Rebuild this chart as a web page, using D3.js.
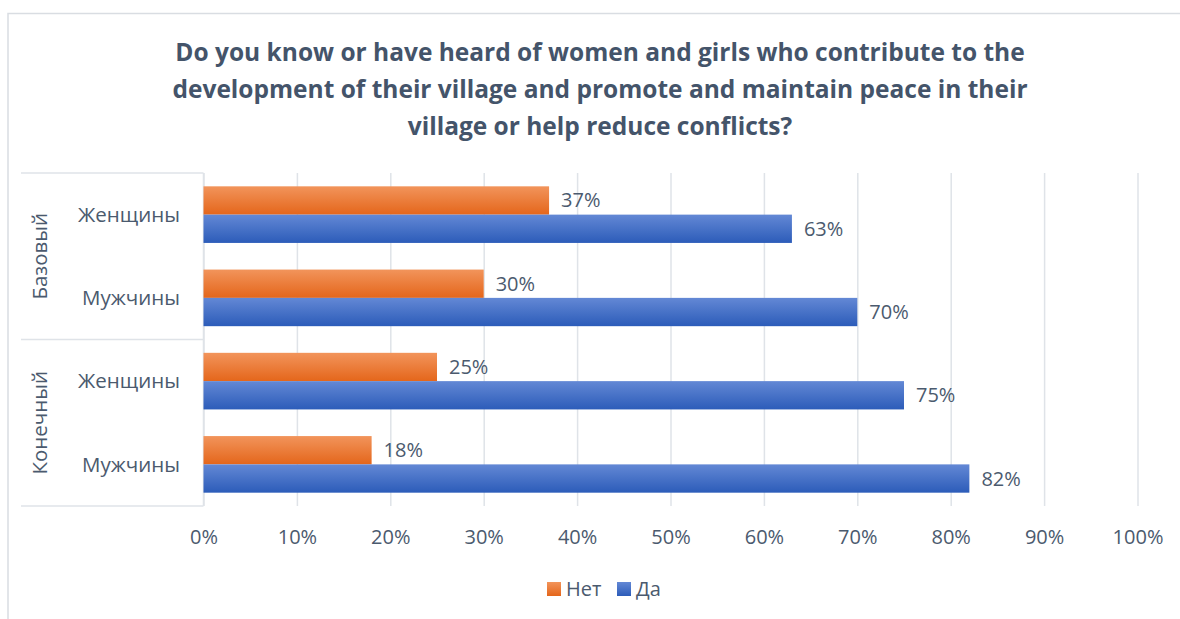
<!DOCTYPE html>
<html><head><meta charset="utf-8">
<script src="https://cdn.jsdelivr.net/npm/d3@7"></script>
<style>html,body{margin:0;padding:0;background:#fff;overflow:hidden}</style>
</head><body>
<svg id="chart" width="1180" height="619"></svg>
<script>
const titleLines = ["Do you know or have heard of women and girls who contribute to the",
  "development of their village and promote and maintain peace in their",
  "village or help reduce conflicts?"];
const groups = ["Базовый", "Конечный"];
const categories = ["Женщины", "Мужчины"];
const seriesNames = ["Нет", "Да"];
const netValues = [0.37, 0.30, 0.25, 0.18];
const daValues = [0.63, 0.70, 0.75, 0.82];
const xTicks = [0,0.1,0.2,0.3,0.4,0.5,0.6,0.7,0.8,0.9,1.0];

const rows = [];
groups.forEach((g,gi)=>categories.forEach((c,ci)=>{
  const i = gi*categories.length+ci;
  rows.push({key:g+"|"+c, group:g, cat:c, values:[netValues[i], daValues[i]]});
}));

const svg = d3.select("#chart");
const font = "'Open Sans', 'Noto Sans', sans-serif";
const textCol = "#4B5A6E";
const gridCol = "#DFE3E8";
const fs = 20;

const defs = svg.append("defs");
const grads = [["gNet","#F2945B","#E4661B"],["gDa","#6388D5","#2C5CB9"]];
grads.forEach(([id,a,b])=>{
  const lg = defs.append("linearGradient").attr("id",id).attr("x1",0).attr("y1",0).attr("x2",0).attr("y2",1);
  lg.append("stop").attr("offset","0%").attr("stop-color",a);
  lg.append("stop").attr("offset","100%").attr("stop-color",b);
});

// outer frame
svg.append("rect").attr("x",8).attr("y",13.5).attr("width",1200).attr("height",700)
  .attr("fill","none").attr("stroke","#D9DDE2").attr("stroke-width",1.5);

// title
svg.append("g").selectAll("text").data(titleLines).join("text")
  .attr("x",600).attr("y",(d,i)=>61+i*37).attr("text-anchor","middle")
  .attr("font-family",font).attr("font-weight","bold").attr("font-size",24.5)
  .attr("fill","#44546A").text(d=>d);

const x0 = 203.5, x1 = 1137.5, yTop = 173, yBot = 506;
const x = d3.scaleLinear().domain([0,1]).range([x0,x1]);
const y = d3.scaleBand().domain(rows.map(r=>r.key)).range([yTop,yBot]).paddingInner(0.32).paddingOuter(0.16);
const ySub = d3.scaleBand().domain(seriesNames).range([0,y.bandwidth()]);

// gridlines via axis
const gridAxis = d3.axisBottom(x).tickValues(xTicks).tickSize(yBot-yTop).tickFormat("");
const gg = svg.append("g").attr("transform",`translate(0,${yTop})`).call(gridAxis);
gg.select(".domain").remove();
gg.selectAll(".tick line").attr("stroke",gridCol).attr("stroke-width",1.5);

// x axis labels
const xAxis = d3.axisBottom(x).tickValues(xTicks).tickSize(0).tickPadding(0).tickFormat(d3.format(".0%"));
const xg = svg.append("g").attr("transform",`translate(0,${544})`).call(xAxis);
xg.select(".domain").remove();
xg.selectAll("text").attr("font-family",font).attr("font-size",fs).attr("fill",textCol).attr("dy",0);

// category axis lines
const catG = svg.append("g").attr("stroke",gridCol).attr("stroke-width",1.5);
catG.append("line").attr("x1",x0).attr("x2",x0).attr("y1",yTop).attr("y2",yBot);
const groupBounds = groups.map(g=>{
  const ks = rows.filter(r=>r.group===g).map(r=>r.key);
  const a = y(ks[0]) - y.step()*y.paddingInner()/2;
  const b = y(ks[ks.length-1]) + y.bandwidth() + y.step()*y.paddingInner()/2;
  return {g, a:Math.max(a,yTop), b:Math.min(b,yBot)};
});
const hLines = [yTop, ...groupBounds.map(d=>d.b)];
catG.selectAll("line.h").data(hLines).join("line").attr("class","h")
  .attr("x1",21).attr("x2",x0).attr("y1",d=>d).attr("y2",d=>d);

// category labels
svg.append("g").selectAll("text").data(rows).join("text")
  .attr("x",180).attr("y",r=>y(r.key)+y.bandwidth()/2).attr("dy","0.35em")
  .attr("text-anchor","end").attr("font-family",font).attr("font-size",20.5).attr("fill",textCol)
  .text(r=>r.cat);

// group labels rotated
svg.append("g").selectAll("text").data(groupBounds).join("text")
  .attr("transform",d=>`translate(40,${(d.a+d.b)/2}) rotate(-90)`)
  .attr("text-anchor","middle").attr("dy","0.35em").attr("font-family",font).attr("font-size",20.5).attr("fill",textCol)
  .text(d=>d.g);

// bars
const rowG = svg.append("g").selectAll("g").data(rows).join("g")
  .attr("transform",r=>`translate(0,${y(r.key)})`);
rowG.selectAll("rect").data(r=>r.values.map((v,i)=>({v,s:seriesNames[i],i}))).join("rect")
  .attr("x",x(0)).attr("y",d=>ySub(d.s)).attr("height",ySub.bandwidth())
  .attr("width",d=>x(d.v)-x(0)).attr("fill",d=>`url(#${grads[d.i][0]})`);
rowG.selectAll("text").data(r=>r.values.map((v,i)=>({v,s:seriesNames[i]}))).join("text")
  .attr("x",d=>x(d.v)+12).attr("y",d=>ySub(d.s)+ySub.bandwidth()/2).attr("dy","0.35em")
  .attr("font-family",font).attr("font-size",fs).attr("fill",textCol)
  .text(d=>d3.format(".0%")(d.v));

// legend
const legendItems = [{n:seriesNames[0],g:grads[0][0],x:547},{n:seriesNames[1],g:grads[1][0],x:617}];
const lg = svg.append("g").selectAll("g").data(legendItems).join("g")
  .attr("transform",d=>`translate(${d.x},582)`);
lg.append("rect").attr("width",14).attr("height",14).attr("fill",d=>`url(#${d.g})`);
lg.append("text").attr("x",19).attr("y",7).attr("dy","0.35em").attr("font-family",font)
  .attr("font-size",fs).attr("fill",textCol).text(d=>d.n);
</script>
</body></html>
